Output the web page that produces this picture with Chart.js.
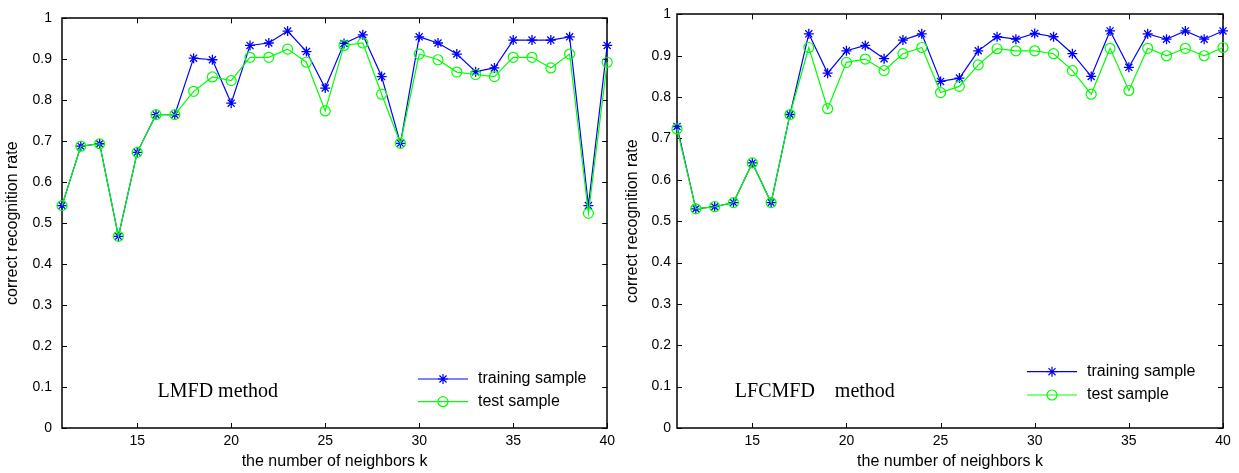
<!DOCTYPE html>
<html>
<head>
<meta charset="utf-8">
<title>Recognition rate vs neighbors</title>
<script src="https://cdn.jsdelivr.net/npm/chart.js@4.4.1/dist/chart.umd.min.js"></script>
<style>
  body { margin: 0; background: #fff; }
  .panel { position: absolute; top: 0; }
</style>
</head>
<body>
<div class="panel" style="left:0"><canvas id="lmfdChart" width="620" height="473"></canvas></div>
<div class="panel" style="left:620px"><canvas id="lfcmfdChart" width="619" height="473"></canvas></div>
<script>
// number of neighbors k
var neighbors = [11, 12, 13, 14, 15, 16, 17, 18, 19, 20, 21, 22, 23, 24, 25,
                 26, 27, 28, 29, 30, 31, 32, 33, 34, 35, 36, 37, 38, 39, 40];

// LMFD method
var lmfdTrain = [0.543, 0.688, 0.694, 0.468, 0.673, 0.765, 0.765, 0.903, 0.899, 0.793,
                 0.934, 0.940, 0.969, 0.919, 0.830, 0.939, 0.960, 0.858, 0.695, 0.955,
                 0.940, 0.913, 0.870, 0.879, 0.947, 0.947, 0.947, 0.955, 0.543, 0.934];
var lmfdTest  = [0.543, 0.688, 0.694, 0.468, 0.673, 0.765, 0.765, 0.822, 0.857, 0.848,
                 0.905, 0.905, 0.925, 0.893, 0.774, 0.934, 0.940, 0.815, 0.695, 0.913,
                 0.899, 0.869, 0.863, 0.858, 0.905, 0.905, 0.879, 0.913, 0.524, 0.893];

// LFCMFD method
var lfcmfdTrain = [0.729, 0.530, 0.535, 0.545, 0.641, 0.545, 0.758, 0.953, 0.858, 0.912,
                   0.925, 0.893, 0.938, 0.953, 0.838, 0.846, 0.912, 0.946, 0.940, 0.954,
                   0.946, 0.905, 0.850, 0.960, 0.872, 0.953, 0.940, 0.960, 0.940, 0.960];
var lfcmfdTest  = [0.723, 0.530, 0.535, 0.545, 0.641, 0.545, 0.758, 0.920, 0.772, 0.884,
                   0.892, 0.864, 0.905, 0.920, 0.811, 0.826, 0.878, 0.917, 0.912, 0.912,
                   0.905, 0.864, 0.807, 0.918, 0.816, 0.918, 0.900, 0.918, 0.900, 0.920];

var xTicks = [15, 20, 25, 30, 35, 40];
var yTicks = [0, 0.1, 0.2, 0.3, 0.4, 0.5, 0.6, 0.7, 0.8, 0.9, 1];

Chart.defaults.font.family = '"Liberation Sans", Arial, sans-serif';
Chart.defaults.color = '#000';

function points(values) {
    return neighbors.map(function (k, i) { return { x: k, y: values[i] }; });
}

// box with inward ticks on all four sides, legend without border, method note
var matlabAxes = {
    id: 'matlabAxes',
    beforeDatasetsDraw: function (chart) {
        var ctx = chart.ctx, a = chart.chartArea;
        var xs = chart.scales.x, ys = chart.scales.y;
        var len = 5;
        ctx.save();
        ctx.strokeStyle = '#000';
        ctx.lineWidth = 1.5;
        ctx.strokeRect(Math.round(a.left), Math.round(a.top),
                       Math.round(a.right - a.left), Math.round(a.bottom - a.top));
        ctx.lineWidth = 1;
        ctx.beginPath();
        xTicks.forEach(function (v) {
            var px = Math.round(xs.getPixelForValue(v)) + 0.5;
            ctx.moveTo(px, a.bottom); ctx.lineTo(px, a.bottom - len);
            ctx.moveTo(px, a.top); ctx.lineTo(px, a.top + len);
        });
        yTicks.forEach(function (v) {
            var py = Math.round(ys.getPixelForValue(v)) + 0.5;
            ctx.moveTo(a.left, py); ctx.lineTo(a.left + len, py);
            ctx.moveTo(a.right, py); ctx.lineTo(a.right - len, py);
        });
        ctx.stroke();
        ctx.restore();
    },
    afterDraw: function (chart, args, opts) {
        var ctx = chart.ctx;
        var xs = chart.scales.x, ys = chart.scales.y;
        ctx.save();

        // legend rows
        var lg = opts.legend;
        chart.data.datasets.forEach(function (ds, i) {
            var y = lg.y + i * lg.gap;
            ctx.strokeStyle = ds.borderColor;
            ctx.lineWidth = 1.2;
            ctx.beginPath();
            ctx.moveTo(lg.x, y);
            ctx.lineTo(lg.x + 50, y);
            ctx.stroke();
            ctx.fillStyle = 'rgba(0,0,0,0)';
            Chart.helpers.drawPoint(ctx, {
                pointStyle: ds.pointStyle, radius: ds.pointRadius,
                borderWidth: 1.2, rotation: 0
            }, lg.x + 25, y);
            ctx.fillStyle = '#000';
            ctx.font = '16px "Liberation Sans", Arial, sans-serif';
            ctx.textBaseline = 'middle';
            ctx.textAlign = 'left';
            ctx.fillText(ds.label, lg.x + 60, y);
        });

        // method name
        ctx.fillStyle = '#000';
        ctx.font = '20px "Liberation Serif", "Times New Roman", serif';
        ctx.textBaseline = 'middle';
        ctx.textAlign = 'left';
        ctx.fillText(opts.note.text, xs.getPixelForValue(opts.note.x), ys.getPixelForValue(opts.note.y));
        ctx.restore();
    }
};

function makeChart(id, train, test, pad, yLabelPad, legend, note) {
    var ctx = document.getElementById(id).getContext('2d');
    return new Chart(ctx, {
        type: 'line',
        data: {
            datasets: [
                {
                    label: 'training sample',
                    data: points(train),
                    borderColor: '#0000ff',
                    backgroundColor: '#0000ff',
                    borderWidth: 1.2,
                    pointStyle: 'star',
                    pointRadius: 5,
                    pointBorderWidth: 1.3,
                    pointBorderColor: '#0000ff',
                    tension: 0,
                    clip: false,
                    order: 1
                },
                {
                    label: 'test sample',
                    data: points(test),
                    borderColor: '#00ff00',
                    backgroundColor: 'rgba(0,0,0,0)',
                    borderWidth: 1.2,
                    pointStyle: 'circle',
                    pointRadius: 5,
                    pointBorderWidth: 1.2,
                    pointBorderColor: '#00ff00',
                    pointBackgroundColor: 'rgba(0,0,0,0)',
                    tension: 0,
                    clip: false,
                    order: 0
                }
            ]
        },
        options: {
            responsive: false,
            animation: false,
            events: [],
            layout: { padding: pad },
            plugins: {
                legend: { display: false },
                tooltip: { enabled: false },
                matlabAxes: { legend: legend, note: note }
            },
            scales: {
                x: {
                    type: 'linear',
                    min: 11,
                    max: 40,
                    grid: { display: false, drawTicks: false },
                    border: { display: false },
                    afterBuildTicks: function (scale) {
                        scale.ticks = xTicks.map(function (v) { return { value: v }; });
                    },
                    afterFit: function (scale) { scale.height = 45; },
                    ticks: { font: { size: 14 }, padding: 5, maxRotation: 0 },
                    title: {
                        display: true,
                        text: 'the number of neighbors k',
                        font: { size: 16 },
                        padding: { top: 0, bottom: 2 }
                    }
                },
                y: {
                    min: 0,
                    max: 1,
                    grid: { display: false, drawTicks: false },
                    border: { display: false },
                    afterBuildTicks: function (scale) {
                        scale.ticks = yTicks.map(function (v) { return { value: v }; });
                    },
                    afterFit: function (scale) { scale.width = pad.yWidth; },
                    ticks: {
                        font: { size: 14 },
                        padding: yLabelPad,
                        callback: function (v) { return String(+v.toFixed(1)); }
                    },
                    title: {
                        display: true,
                        text: 'correct recognition rate',
                        font: { size: 16 },
                        padding: { top: 3, bottom: 0 }
                    }
                }
            }
        },
        plugins: [matlabAxes]
    });
}

makeChart('lmfdChart', lmfdTrain, lmfdTest,
    { left: 0, top: 14, right: 11, bottom: 0, yWidth: 62 }, 10,
    { x: 418, y: 379, gap: 22.7 },
    { text: 'LMFD method', x: 16.08, y: 0.088 });

makeChart('lfcmfdChart', lfcmfdTrain, lfcmfdTest,
    { left: 0, top: 13, right: 16, bottom: 0, yWidth: 57 }, 6,
    { x: 407, y: 371.7, gap: 23.3 },
    { text: 'LFCMFD    method', x: 14.07, y: 0.088 });
</script>
</body>
</html>
